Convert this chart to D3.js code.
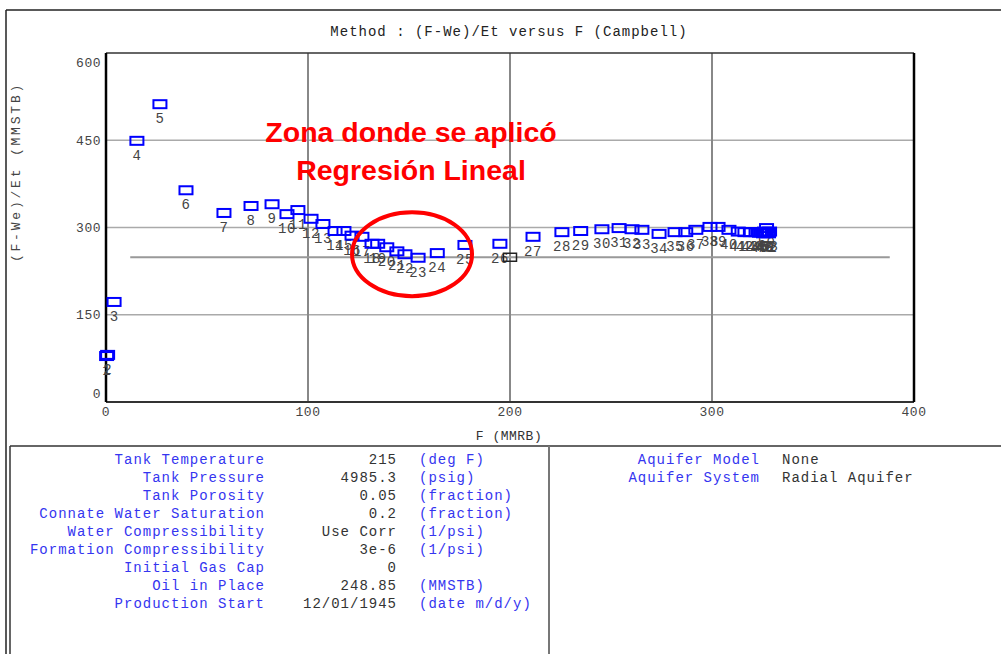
<!DOCTYPE html>
<html><head><meta charset="utf-8">
<script src="https://cdn.jsdelivr.net/npm/d3@7"></script>
<style>
html,body{margin:0;padding:0;background:#fff;}
svg{display:block;}
</style></head>
<body>
<script>
// ---------- data ----------
const pointIds = [1,2,3,4,5,6,7,8,9,10,11,12,13,14,15,16,17,18,19,20,21,22,23,24,25,26,27,28,29,30,31,32,33,34,35,36,37,38,39,40,41,42,43,44,45,46,47,48,49,50,51,52,53];
const fValues = [0.3,0.8,4,15.3,26.7,39.6,58.4,71.8,82.2,89.6,95,101.5,107.4,113.4,117.8,121.8,126.7,131.7,134.5,139,144,148,154.5,164,177.7,195,211.4,225.7,235,245.5,254,260.4,265.3,273.8,281.7,287,292,299,303,308.4,313,316.3,319,321.8,323.5,324.5,325.5,326,326.5,327,327.5,328,328.5];
const fweEtValues = [79,81,172,449,512,364,325,337,340,323,330,315,306,294,294,286,284,272,272,266,259,254,248,256,270,272,284,292,294,297,299,297,296,289,292,292,296,301,301,296,293,292,292,292,291,292,290,293,291,299,292,290,293];
const oilInPlace = 248.85;
const regressionRange = [12, 388];
const xTicks = [0,100,200,300,400];
const yTicks = [0,150,300,450,600];
const titleText = "Method : (F-We)/Et versus F (Campbell)";
const xTitle = "F (MMRB)";
const yTitle = "(F-We)/Et (MMSTB)";
const annotationLines = ["Zona donde se aplicó", "Regresión Lineal"];
const tableLabels = ["Tank Temperature","Tank Pressure","Tank Porosity","Connate Water Saturation","Water Compressibility","Formation Compressibility","Initial Gas Cap","Oil in Place","Production Start"];
const tableValues = ["215","4985.3","0.05","0.2","Use Corr","3e-6","0","248.85","12/01/1945"];
const tableUnits = ["(deg F)","(psig)","(fraction)","(fraction)","(1/psi)","(1/psi)","","(MMSTB)","(date m/d/y)"];
const aquiferLabels = ["Aquifer Model","Aquifer System"];
const aquiferValues = ["None","Radial Aquifer"];

// ---------- layout ----------
const W = 1001, H = 654;
const svg = d3.select("body").append("svg").attr("width", W).attr("height", H);
const mono = "'Liberation Mono','Courier New',monospace";
const L = 106, R = 914, T = 53, B = 402;
const x = d3.scaleLinear().domain([0,400]).range([L,R]);
const y = d3.scaleLinear().domain([0,600]).range([B,T]);

// outer frame
svg.append("line").attr("x1",6).attr("x2",W).attr("y1",10).attr("y2",10).attr("stroke","#222").attr("stroke-width",1.5);
svg.append("line").attr("x1",6).attr("x2",6).attr("y1",10).attr("y2",H).attr("stroke","#222").attr("stroke-width",1.5);

// title
svg.append("text").attr("x",509).attr("y",36).attr("text-anchor","middle")
  .style("font-family",mono).style("font-size","14px").style("letter-spacing","1px").attr("fill","#222").text(titleText);

// grid
const g = svg.append("g");
g.selectAll("line.hg").data(yTicks.filter(d=>d>0&&d<600)).enter().append("line")
  .attr("x1",L).attr("x2",R).attr("y1",d=>y(d)).attr("y2",d=>y(d)).attr("stroke","#aaa").attr("stroke-width",1.5);
g.selectAll("line.vg").data(xTicks.filter(d=>d>0&&d<400)).enter().append("line")
  .attr("x1",d=>x(d)).attr("x2",d=>x(d)).attr("y1",T).attr("y2",B).attr("stroke","#888").attr("stroke-width",2);

// regression / N line
g.append("line").attr("x1",x(regressionRange[0])).attr("x2",x(regressionRange[1]))
  .attr("y1",y(oilInPlace)).attr("y2",y(oilInPlace)).attr("stroke","#999").attr("stroke-width",2);

// axes frame
svg.append("line").attr("x1",L).attr("x2",R).attr("y1",T).attr("y2",T).attr("stroke","#333").attr("stroke-width",1.5);
svg.append("line").attr("x1",L).attr("x2",R).attr("y1",B).attr("y2",B).attr("stroke","#333").attr("stroke-width",2);
svg.append("line").attr("x1",L).attr("x2",L).attr("y1",T).attr("y2",B).attr("stroke","#000").attr("stroke-width",2.5);
svg.append("line").attr("x1",R).attr("x2",R).attr("y1",T).attr("y2",B).attr("stroke","#000").attr("stroke-width",2.5);

// tick labels
svg.selectAll("text.yt").data(yTicks).enter().append("text")
  .attr("x",101).attr("y",d=> d===600 ? y(d)+9 : d===0 ? y(d)-9 : y(d)).attr("dy","0.35em")
  .attr("text-anchor","end").style("font-family",mono).style("font-size","13px").style("letter-spacing","0.5px")
  .attr("fill","#444").text(d=>d);
svg.selectAll("text.xt").data(xTicks).enter().append("text")
  .attr("x",d=>x(d)).attr("y",411).attr("dy","0.35em")
  .attr("text-anchor","middle").style("font-family",mono).style("font-size","13px").style("letter-spacing","0.5px")
  .attr("fill","#444").text(d=>d);

// axis titles
svg.append("text").attr("x",509).attr("y",435).attr("dy","0.35em").attr("text-anchor","middle")
  .style("font-family",mono).style("font-size","13px").style("letter-spacing","0.5px").attr("fill","#333").text(xTitle);
svg.append("text").attr("transform","translate(15,172) rotate(-90)").attr("dy","0.35em").attr("text-anchor","middle")
  .style("font-family",mono).style("font-size","13px").style("letter-spacing","2.8px").attr("fill","#444").text(yTitle);

// points
const pts = pointIds.map((id,i)=>({id, f:fValues[i], v:fweEtValues[i]}));
const pg = svg.append("g");
pg.selectAll("text.pl").data(pts).enter().append("text")
  .attr("x",d=>x(d.f)).attr("y",d=>y(d.v)+19).attr("text-anchor","middle")
  .style("font-family",mono).style("font-size","14px").style("letter-spacing","0.5px").attr("fill","#444").text(d=>d.id);
pg.selectAll("rect.pt").data(pts).enter().append("rect")
  .attr("x",d=>x(d.f)-6.5).attr("y",d=>y(d.v)-4).attr("width",13).attr("height",8)
  .attr("fill","none").attr("stroke","#0000ff").attr("stroke-width",2);
// black marker on the N line
pg.append("rect").attr("x",x(200)-6.5).attr("y",y(oilInPlace)-4).attr("width",13).attr("height",8)
  .attr("fill","none").attr("stroke","#222").attr("stroke-width",1.5);

// annotation
svg.selectAll("text.ann").data(annotationLines).enter().append("text")
  .attr("x",411).attr("y",(d,i)=>132+i*38).attr("dy","0.35em").attr("text-anchor","middle")
  .style("font-family","'Liberation Sans',Arial,sans-serif").style("font-weight","bold").style("font-size","28.5px")
  .attr("fill","#ff0000").text(d=>d);
svg.append("ellipse").attr("cx",x(151.5)).attr("cy",y(254)).attr("rx",60).attr("ry",42)
  .attr("fill","none").attr("stroke","#ff0000").attr("stroke-width",4);

// table
svg.append("line").attr("x1",10).attr("x2",W).attr("y1",446).attr("y2",446).attr("stroke","#333").attr("stroke-width",1.5);
svg.append("line").attr("x1",10).attr("x2",10).attr("y1",446).attr("y2",H).attr("stroke","#333").attr("stroke-width",1.5);
svg.append("line").attr("x1",549).attr("x2",549).attr("y1",446).attr("y2",H).attr("stroke","#777").attr("stroke-width",2);

const rowY = i => 459 + i*18;
const tstyle = s => s.style("font-family",mono).style("font-size","14px").style("letter-spacing","1px");
tstyle(svg.selectAll("text.tl").data(tableLabels).enter().append("text")
  .attr("x",265).attr("y",(d,i)=>rowY(i)).attr("dy","0.35em").attr("text-anchor","end").attr("fill","#3535f0").text(d=>d));
tstyle(svg.selectAll("text.tv").data(tableValues).enter().append("text")
  .attr("x",397).attr("y",(d,i)=>rowY(i)).attr("dy","0.35em").attr("text-anchor","end").attr("fill","#333").text(d=>d));
tstyle(svg.selectAll("text.tu").data(tableUnits).enter().append("text")
  .attr("x",419).attr("y",(d,i)=>rowY(i)).attr("dy","0.35em").attr("text-anchor","start").attr("fill","#3535f0").text(d=>d));
tstyle(svg.selectAll("text.al").data(aquiferLabels).enter().append("text")
  .attr("x",760).attr("y",(d,i)=>rowY(i)).attr("dy","0.35em").attr("text-anchor","end").attr("fill","#3535f0").text(d=>d));
tstyle(svg.selectAll("text.av").data(aquiferValues).enter().append("text")
  .attr("x",782).attr("y",(d,i)=>rowY(i)).attr("dy","0.35em").attr("text-anchor","start").attr("fill","#333").text(d=>d));
</script>
</body></html>
